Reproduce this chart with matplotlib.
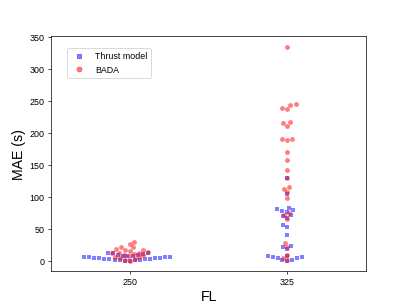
import numpy as np
import pandas as pd
import matplotlib
matplotlib.use('Agg')
import matplotlib.pyplot as plt
import seaborn as sns

plt.rcParams['font.family'] = ['Liberation Sans', 'DejaVu Sans']

# MAE (s) per flight
thrust_250 = [0.3, 0.6, 1.0, 1.4, 1.8, 2.2, 2.5, 2.9, 3.3, 3.7, 4.0, 4.4, 4.8,
              5.2, 5.5, 5.9, 6.3, 6.7, 7.1, 7.6, 8.4, 9.0,
              10.0, 11.0, 12.0, 12.5, 13.0]
bada_250 = [0.5, 1.5, 3.0, 4.5, 5.5, 6.5, 8.0, 9.0, 10.0, 11.0, 12.0, 12.5,
            13.0, 14.0, 15.5, 16.5, 17.5, 18.0, 21.0, 22.0, 27.0, 30.0]
thrust_325 = [130, 105, 83, 81, 79, 78, 76, 72, 70, 67, 56, 53, 40, 24, 22,
              19, 8, 7, 6, 6, 5, 4, 2, 1, 0.5]
bada_325 = [334, 244.5, 239.4, 244, 237.8, 215.3, 210.6, 217.5, 189.8, 188.3,
            191, 169.5, 158, 141.4, 130, 112.8, 114.8, 107.5, 98.7, 75, 71,
            65, 27.8, 21.6, 9.7, 4.4, 1]

thrust = pd.DataFrame({'FL': ['250'] * len(thrust_250) + ['325'] * len(thrust_325),
                       'MAE': thrust_250 + thrust_325})
bada = pd.DataFrame({'FL': ['250'] * len(bada_250) + ['325'] * len(bada_325),
                     'MAE': bada_250 + bada_325})

fig, ax = plt.subplots(figsize=(6.4, 4.8), dpi=63.6)
sns.swarmplot(data=thrust, x='FL', y='MAE', order=['250', '325'], marker='s',
              color='blue', alpha=0.5, size=5.5, ax=ax)
sns.swarmplot(data=bada, x='FL', y='MAE', order=['250', '325'], marker='o',
              color='red', alpha=0.5, size=5.5, ax=ax)

handles = [plt.Line2D([], [], ls='', marker='s', color='blue', alpha=0.5, markersize=5.5),
           plt.Line2D([], [], ls='', marker='o', color='red', alpha=0.5, markersize=5.5)]
ax.legend(handles, ['Thrust model', 'BADA'], loc='upper left',
          bbox_to_anchor=(0.037, 0.968))
ax.set_xlabel('FL', fontsize=16)
ax.set_ylabel('MAE (s)', fontsize=16)

fig.savefig('out.png', dpi=63.6)
